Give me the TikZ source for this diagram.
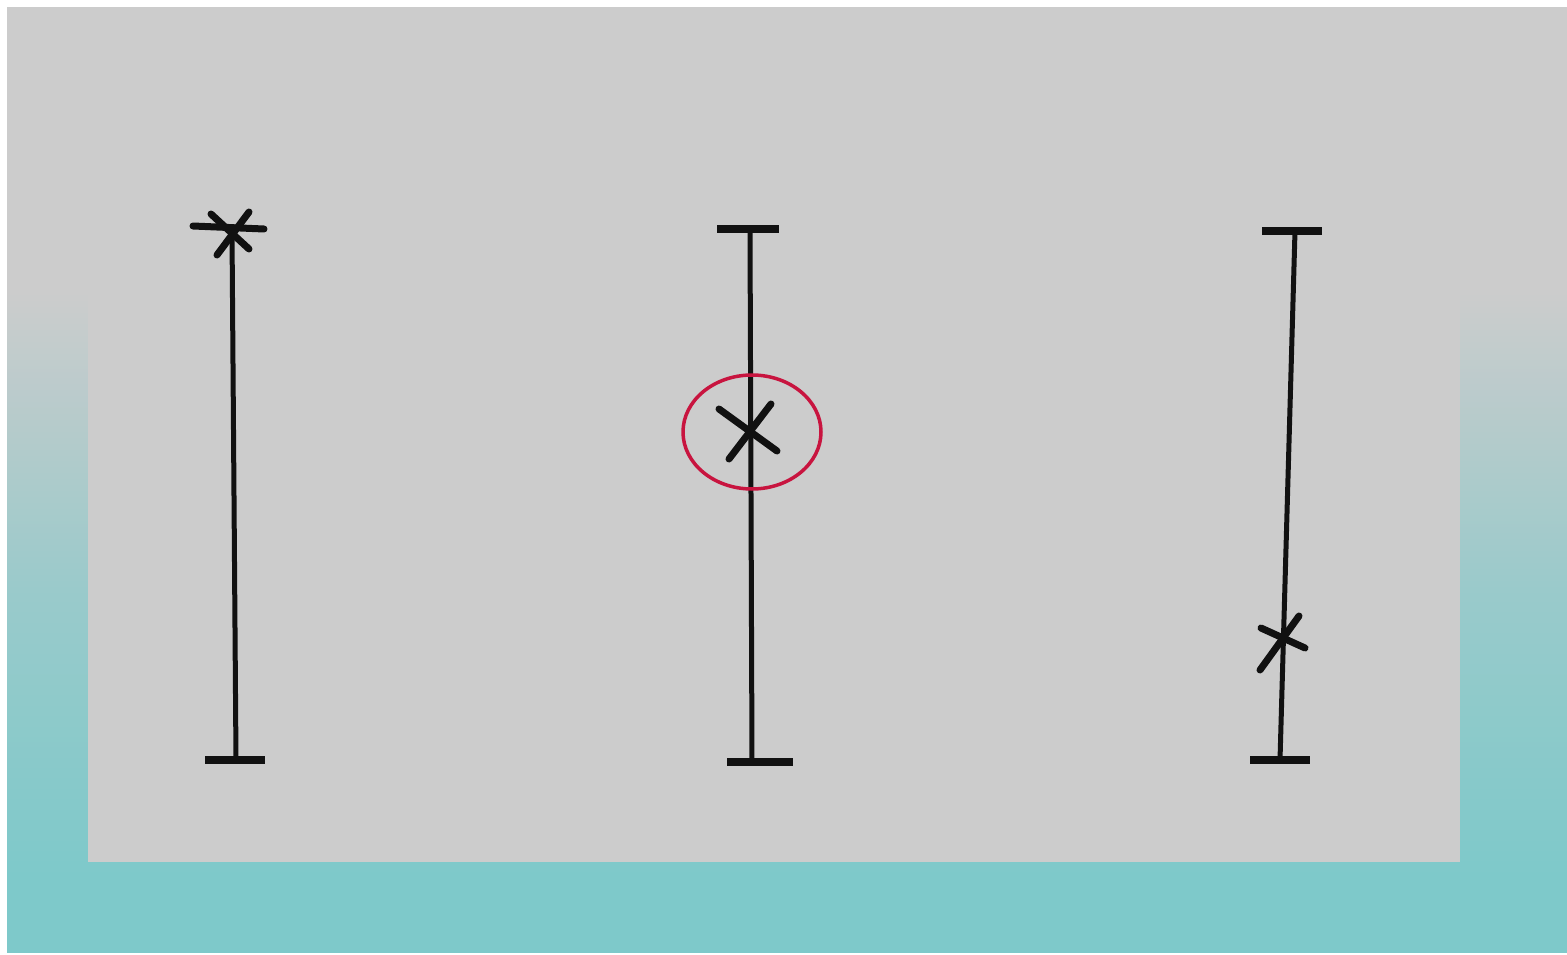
\documentclass[tikz,border=0pt]{standalone}
\usetikzlibrary{shapes.geometric}
\definecolor{bggray}{HTML}{CCCCCC}
\definecolor{bgteal}{HTML}{7EC9CA}
\definecolor{ink}{HTML}{111111}
\definecolor{ringred}{HTML}{C8143F}
\pgfdeclareverticalshading{bgshade}{100bp}{color(0bp)=(bgteal); color(29bp)=(bgteal); color(44bp)=(bgteal!65!bggray); color(60bp)=(bggray); color(100bp)=(bggray)}
\tikzset{
  bar/.style={draw=ink, line width=5pt, line cap=round},
  endcap/.style={draw=ink, line width=8pt},
  xmark/.style={draw=ink, line width=7pt, line cap=round},
  ring/.style={draw=ringred, line width=3.5pt}
}
\begin{document}
\begin{tikzpicture}[x=1pt,y=-1pt]
\useasboundingbox (0,0) rectangle (1567,955);
\fill[white] (0,0) rectangle (1567,955);
\shade[shading=bgshade] (7,8) rectangle (1567,952);
\fill[bggray] (88,8) rectangle (1460,862);
% line 1
\coordinate (a1) at (232,232);
\coordinate (b1) at (236,760);
\coordinate (bl1) at (205,760);
\coordinate (br1) at (265,760);
\draw[bar] (a1) -- (b1);
\draw[endcap] (bl1) -- (br1);
\coordinate (s1) at (193,226);
\coordinate (s2) at (264,229);
\coordinate (s3) at (211,214);
\coordinate (s4) at (249,212);
\coordinate (s5) at (217,255);
\coordinate (s6) at (249,249);
\draw[xmark] (s1) -- (s2);
\draw[xmark] (s3) -- (s6);
\draw[xmark] (s4) -- (s5);
% line 2
\coordinate (a2) at (750,229);
\coordinate (b2) at (752,762);
\coordinate (tl2) at (717,229);
\coordinate (tr2) at (779,229);
\coordinate (bl2) at (727,762);
\coordinate (br2) at (793,762);
\draw[bar] (a2) -- (b2);
\draw[endcap] (tl2) -- (tr2);
\draw[endcap] (bl2) -- (br2);
\node[ring, ellipse, minimum width=138pt, minimum height=114pt, inner sep=0pt] (r2) at (752,432) {};
\coordinate (x1) at (719,409);
\coordinate (x2) at (777,451);
\coordinate (x3) at (771,404);
\coordinate (x4) at (729,459);
\draw[xmark] (x1) -- (x2);
\draw[xmark] (x3) -- (x4);
% line 3
\coordinate (a3) at (1295,231);
\coordinate (b3) at (1280,760);
\coordinate (tl3) at (1262,231);
\coordinate (tr3) at (1322,231);
\coordinate (bl3) at (1250,760);
\coordinate (br3) at (1310,760);
\draw[bar] (a3) -- (b3);
\draw[endcap] (tl3) -- (tr3);
\draw[endcap] (bl3) -- (br3);
\coordinate (y1) at (1261,628);
\coordinate (y2) at (1305,648);
\coordinate (y3) at (1299,616);
\coordinate (y4) at (1260,670);
\draw[xmark] (y1) -- (y2);
\draw[xmark] (y3) -- (y4);
\end{tikzpicture}
\end{document}
